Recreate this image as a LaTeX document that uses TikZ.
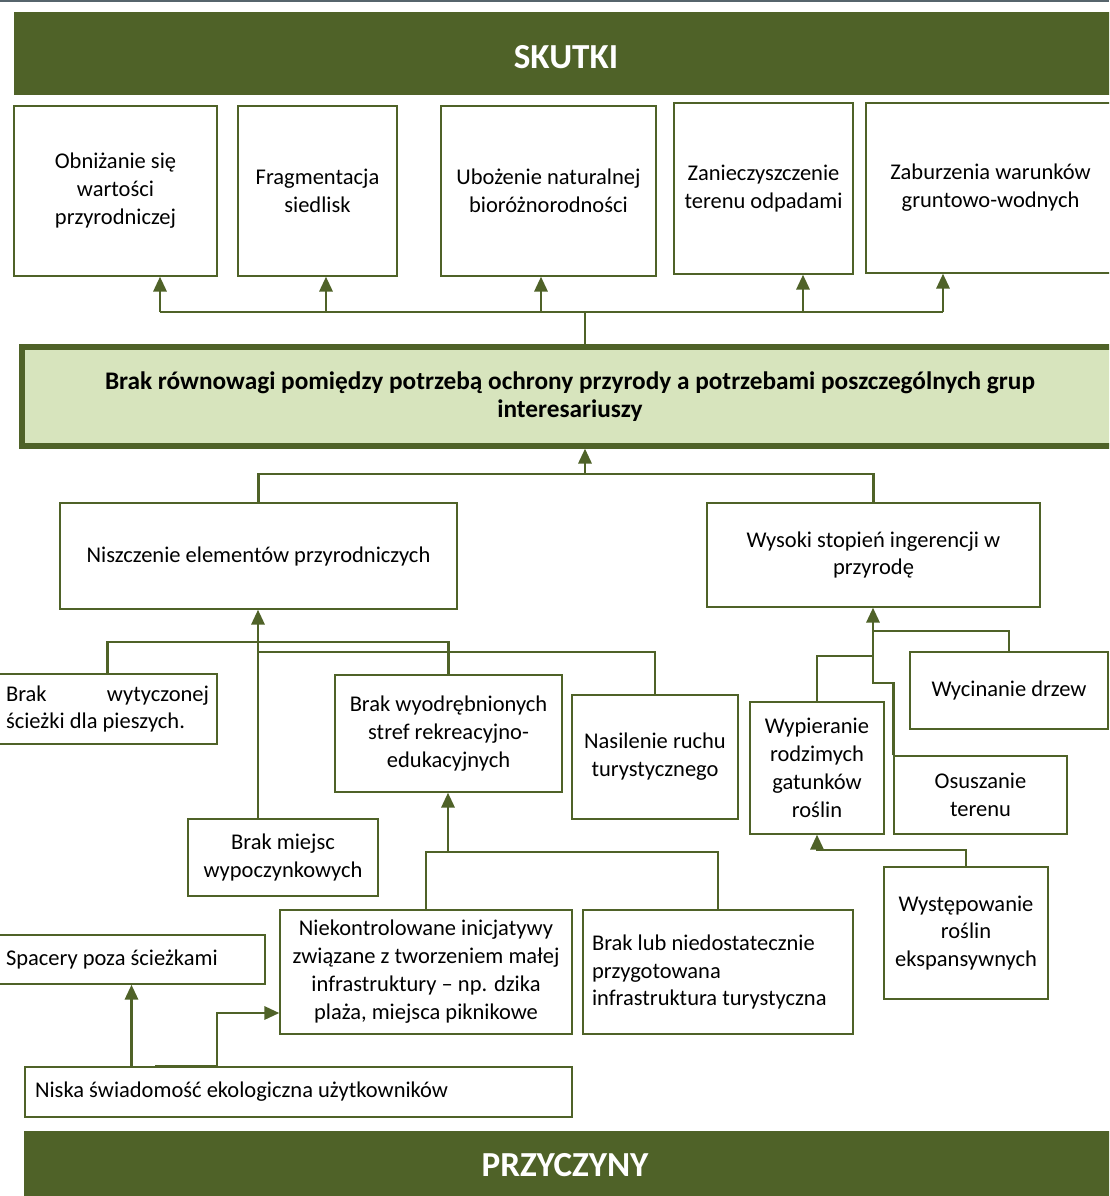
\documentclass[tikz,border=0pt]{standalone}
\usepackage{fontspec}
\setmainfont{Carlito}
\usepackage{tikz}
\usetikzlibrary{arrows.meta,calc,positioning}
\definecolor{leaf}{HTML}{4F6228}
\definecolor{pale}{HTML}{D7E4BD}
\definecolor{rim}{HTML}{56646C}
\newcommand{\boxfont}{\fontsize{12.8pt}{15.9pt}\selectfont}
\newcommand{\corefont}{\fontsize{14.4pt}{15.9pt}\selectfont\bfseries}
\newcommand{\bandfont}{\fontsize{20pt}{24pt}\selectfont\bfseries}
\tikzstyle{box}  =[rectangle, draw=leaf, line width=0.8pt, fill=white,
                   inner sep=0pt, align=center, font=\boxfont]
\tikzstyle{lbox} =[box, align=flush left, inner xsep=0.16cm]
\tikzstyle{band} =[rectangle, fill=leaf, text=white, inner sep=0pt,
                   font=\bandfont]
\tikzstyle{core} =[rectangle, draw=leaf, line width=3pt, fill=pale,
                   inner sep=0pt, align=center, font=\corefont]
\tikzstyle{link} =[draw=leaf, line width=1.5pt]
\tikzstyle{arr}  =[link, -{Triangle[width=7.5pt,length=8.5pt]}]

\begin{document}
\begin{tikzpicture}[x=0.02cm, y=-0.02cm]
    \clip (0,0) rectangle (1109,1196);
    \draw[rim, line width=1.2pt] (0,0.8) -- (1109,0.8);

    % skutki
    \draw (566,53.5) node (top) [band, minimum width=22.08cm, minimum height=1.66cm] {\raisebox{-0.07cm}[\height][\depth]{SKUTKI}};
    \draw (115.5,191) node (e1) [box, minimum width=4.06cm, minimum height=3.4cm] {Obniżanie się\\wartości\\przyrodniczej};
    \draw (317.5,191) node (e2) [box, minimum width=3.18cm, minimum height=3.4cm] {Fragmentacja\\siedlisk};
    \draw (548.5,191) node (e3) [box, minimum width=4.3cm, minimum height=3.4cm] {Ubożenie naturalnej\\bioróżnorodności};
    \draw (763.5,188.5) node (e4) [box, minimum width=3.58cm, minimum height=3.42cm] {Zanieczyszczenie\\terenu odpadami};
    \draw (990.5,188) node (e5) [box, minimum width=4.98cm, minimum height=3.4cm] {Zaburzenia warunków\\gruntowo-wodnych};

    % problem
    \draw (570,396.5) node (core) [core, minimum width=21.92cm, minimum height=1.98cm]
        {Brak równowagi pomiędzy potrzebą ochrony przyrody a potrzebami poszczególnych grup\\interesariuszy};

    \coordinate (hub) at (585,312);
    \foreach \n/\x in {e1/160,e2/326,e3/541,e4/803,e5/943}
    {
        \coordinate (t\n) at (\x,312);
        \draw [arr] (t\n) -- (t\n |- \n.south);
    }
    \draw [link] (te1) -- (te5);
    \draw [link] (hub |- core.north) -- (hub);

    % przyczyny
    \draw (258.5,556) node (n1) [box, minimum width=7.94cm, minimum height=2.12cm] {Niszczenie elementów przyrodniczych};
    \draw (873.5,555) node (n2) [box, minimum width=6.66cm, minimum height=2.08cm] {Wysoki stopień ingerencji w\\przyrodę};

    \coordinate (mid) at (585,474);
    \draw [link] (n1.north) |- (mid) -| (n2.north);
    \draw [arr] (mid) -- (mid |- core.south);

    \draw (107.5,709) node (b1) [lbox, minimum height=1.4cm, text width=4.06cm] {Brak\hfill wytyczonej\\ścieżki dla pieszych.};
    \draw (283,857.5) node (b2) [box, minimum width=3.8cm, minimum height=1.54cm] {Brak miejsc\\wypoczynkowych};
    \draw (448.5,733.5) node (b3) [box, minimum width=4.54cm, minimum height=2.34cm] {Brak wyodrębnionych\\stref rekreacyjno-\\edukacyjnych};
    \draw (655,757) node (b4) [box, minimum width=3.32cm, minimum height=2.48cm] {Nasilenie ruchu\\turystycznego};

    \coordinate (j1) at (258,642);
    \coordinate (j2) at (258,652);
    \draw [link] (b1.north) |- (j1) -| (b3.north);
    \draw [link] (j2) -| (b4.north);
    \draw [arr] (j1 |- b2.north) -- (j1 |- n1.south);

    \draw (426,972) node (c1) [box, minimum width=5.84cm, minimum height=2.48cm] {Niekontrolowane inicjatywy\\związane z tworzeniem małej\\infrastruktury -- np. dzika\\plaża, miejsca piknikowe};
    \draw (718,972) node (c2) [lbox, inner xsep=0.18cm, minimum height=2.48cm, text width=5.04cm] {Brak lub niedostatecznie\\przygotowana\\infrastruktura turystyczna};

    \coordinate (j3) at (448,852);
    \draw [link] (c1.north) |- (j3) -| (c2.north);
    \draw [arr] (j3) -- (j3 |- b3.south);

    \draw (131.5,959.5) node (sp) [lbox, minimum height=0.98cm, text width=5.02cm] {Spacery poza ścieżkami};
    \draw (298.5,1092) node (ni) [lbox, inner xsep=0.2cm, minimum height=1.0cm, text width=10.54cm] {Niska świadomość ekologiczna użytkowników};

    \coordinate (j4) at (155,1066);
    \coordinate (j5) at (217,1013);
    \draw [arr] (sp.south |- ni.north) -- (sp.south);
    \draw [arr] (j4) -| (j5) -- (j5 -| c1.west);

    \draw (1009,690.5) node (d1) [box, minimum width=3.96cm, minimum height=1.54cm] {Wycinanie drzew};
    \draw (817,768) node (d2) [box, minimum width=2.68cm, minimum height=2.64cm] {Wypieranie\\rodzimych\\gatunków\\roślin};
    \draw (980.5,795) node (d3) [box, minimum width=3.46cm, minimum height=1.56cm] {Osuszanie\\terenu};
    \draw (966,933) node (d4) [box, minimum width=3.28cm, minimum height=2.64cm] {Występowanie\\roślin\\ekspansywnych};

    \coordinate (j6) at (873,631);
    \coordinate (j7) at (873,656);
    \coordinate (j8) at (873,683);
    \coordinate (j9) at (817,850);
    \draw [link] (d1.north) |- (j6);
    \draw [link] (d2.north) |- (j7);
    \draw [arr] (d3.north west) |- (j8) -- (j8 |- n2.south);
    \draw [arr] (d4.north) |- (j9) -- (d2.south);

    \draw (571,1165.5) node (bottom) [band, minimum width=21.88cm, minimum height=1.38cm] {\kern-0.24cm PRZYCZYNY};
\end{tikzpicture}
\end{document}
